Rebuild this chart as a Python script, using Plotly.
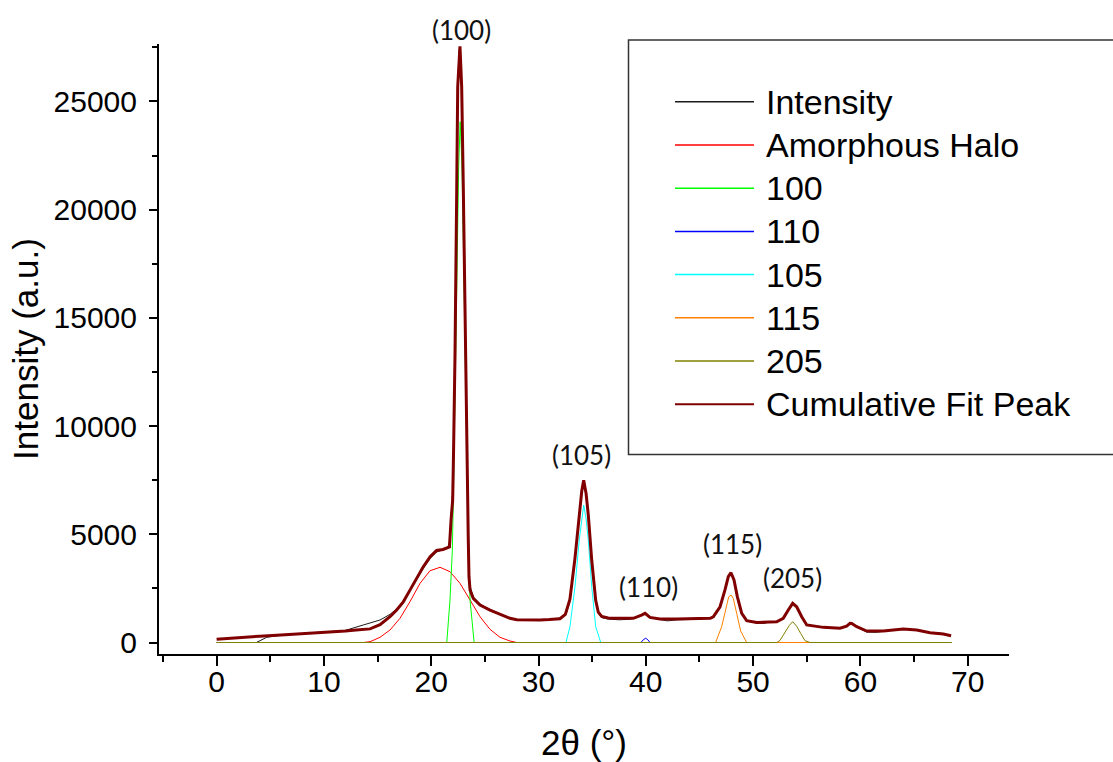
import plotly.graph_objects as go

# ---------------- data ----------------
intensity_x = [3.74, 4.67, 6.0, 8.0, 10.0, 12.0, 13.67, 14.3, 15.23, 16.16, 16.78, 17.4, 18.0, 18.65,
               19.26, 19.9, 20.5, 21.1, 21.5, 21.69, 21.85, 22.0, 22.08, 22.22, 22.38, 22.47, 22.6,
               22.68, 22.84, 22.99, 23.18, 23.34, 23.45, 23.52, 23.62, 23.92, 24.55, 25.48, 26.41,
               27.34, 28.0, 29.5, 31.0, 32.16, 32.6, 32.93, 33.4, 33.8, 34.03, 34.21, 34.43, 34.64,
               34.96, 35.33, 35.57, 35.89, 36.5, 37.5, 38.5, 39.2, 39.6, 39.93, 40.39, 41.3, 42.0,
               43.0, 44.0, 45.0, 45.5, 46.29, 46.92, 47.38, 47.69, 47.94, 48.22, 48.53, 48.94, 49.4,
               50.3, 51.0, 51.5, 52.2, 52.81, 53.28, 53.69, 54.06, 54.53, 55.0, 56.54, 58.1, 58.72,
               59.03, 59.19, 59.66, 60.59, 61.5, 62.14, 64.0, 65.25, 66.49, 67.4, 67.73, 68.45]
intensity_y = [10, 240, 340, 405, 470, 560, 810, 890, 1040, 1300, 1550, 1900, 2400, 2920,
               3420, 3880, 4180, 4290, 4350, 4600, 5800, 7000, 9000, 13600, 21300, 25800, 27400,
               27500, 25500, 20800, 13200, 8600, 4800, 3200, 2600, 2100, 1780, 1520, 1300,
               1110, 1060, 1050, 1060, 1150, 1350, 1900, 3900, 5950, 7000, 7450, 6950, 5900,
               3750, 1900, 1350, 1150, 1080, 1050, 1070, 1180, 1260, 1330, 1150, 1060, 1000,
               1050, 1060, 1150, 1100, 1180, 1650, 2420, 3030, 3220, 2880, 2100, 1330, 990,
               900, 880, 950, 980, 1100, 1480, 1800, 1640, 1180, 800, 700, 650, 750,
               880, 870, 720, 480, 470, 520, 640, 570, 440, 440, 370, 330]

fit_x = [0.0, 2.0, 4.0, 6.0, 8.0, 10.0, 12.0, 13.0, 13.67, 14.3, 15.23, 16.16, 16.78, 17.4, 18.02,
         18.65, 19.26, 19.9, 20.5, 21.1, 21.7, 21.85, 22.0, 22.08, 22.22, 22.38, 22.47, 22.68,
         22.84, 22.99, 23.18, 23.34, 23.45, 23.52, 23.62, 23.92, 24.55, 25.48, 26.41, 27.34,
         27.97, 29.0, 30.14, 31.0, 32.0, 32.5, 32.93, 33.4, 33.8, 34.03, 34.21, 34.43, 34.64,
         34.96, 35.33, 35.57, 35.89, 36.5, 37.29, 38.84, 39.6, 39.93, 40.39, 41.32, 42.88,
         45.05, 46.0, 46.29, 46.92, 47.38, 47.69, 47.94, 48.22, 48.53, 48.94, 49.4, 50.34,
         52.2, 52.81, 53.28, 53.69, 54.06, 54.53, 55.0, 56.54, 58.1, 58.72, 59.03, 59.19,
         59.66, 60.59, 62.14, 64.0, 65.25, 66.49, 67.73, 68.45]
fit_y = [150, 230, 290, 345, 400, 460, 530, 575, 600, 630, 820, 1190, 1500, 1880, 2420,
         2960, 3500, 3960, 4250, 4300, 4420, 5660, 6580, 8750, 13380, 21060, 25680, 27550,
         25680, 21060, 13380, 8750, 4890, 3040, 2430, 2040, 1730, 1500, 1320, 1120,
         1050, 1040, 1040, 1060, 1100, 1300, 2000, 3900, 6000, 7000, 7500, 6900, 5900,
         3800, 1950, 1400, 1200, 1130, 1120, 1120, 1270, 1350, 1160, 1090, 1090,
         1090, 1120, 1190, 1650, 2430, 3040, 3225, 2890, 2120, 1350, 1010, 930,
         960, 1120, 1500, 1810, 1650, 1190, 810, 700, 660, 760, 890, 880,
         730, 530, 530, 620, 580, 450, 390, 310]

halo_x = [0.0, 13.67, 14.3, 15.23, 16.16, 17.09, 18.02, 18.96, 19.89, 20.82, 21.75, 22.68, 23.62,
          24.55, 25.48, 26.41, 27.34, 27.97, 68.5]
halo_y = [0, 0, 37, 240, 578, 1118, 1885, 2735, 3317, 3474, 3271, 2735, 1964,
          1192, 610, 240, 69, 0, 0]

p100_x = [0.0, 21.45, 21.75, 21.97, 22.06, 22.19, 22.28, 22.43, 22.56, 22.7, 22.87, 23.0, 23.12,
          23.2, 23.36, 23.46, 23.62, 24.0, 68.5]
p100_y = [0, 0, 1960, 4270, 6580, 11070, 14440, 18440, 21980, 24060, 21980, 18440, 14440,
          11070, 6580, 4270, 1960, 0, 0]

p110_x = [0.0, 39.55, 39.75, 39.99, 40.2, 40.4, 68.5]
p110_y = [0, 0, 120, 200, 120, 0, 0]

p105_x = [0.0, 32.56, 32.93, 33.15, 33.4, 33.8, 34.03, 34.21, 34.43, 34.64, 34.96, 35.15, 35.33,
          35.8, 68.5]
p105_y = [0, 0, 730, 1500, 2578, 4736, 5812, 6353, 5738, 4736, 2578, 1500, 730, 0, 0]

p115_x = [0.0, 46.51, 47.07, 47.47, 47.73, 47.94, 48.15, 48.47, 48.84, 49.4, 68.5]
p115_y = [0, 0, 730, 1654, 2116, 2194, 2042, 1349, 531, 0, 0]

p205_x = [0.0, 52.2, 52.5, 52.97, 53.37, 53.69, 54.06, 54.43, 54.84, 55.3, 68.5]
p205_y = [0, 0, 92, 499, 785, 961, 753, 425, 83, 0, 0]

series_names = ["Intensity", "Amorphous Halo", "100", "110", "105", "115", "205", "Cumulative Fit Peak"]
series_colors = ["#1a1a1a", "#FF0000", "#00FF00", "#0000FF", "#00FFFF", "#FF8000", "#808000", "#800000"]
series_widths = [1, 1, 1, 1, 1, 1, 1, 3]

peak_labels = ["(100)", "(105)", "(110)", "(115)", "(205)"]
peak_label_x = [22.84, 34.03, 40.29, 48.1, 53.65]
peak_label_y = [28297, 8663, 2578, 4551, 2966]

x_ticks = [0, 10, 20, 30, 40, 50, 60, 70]
y_ticks = [0, 5000, 10000, 15000, 20000, 25000]

X_RANGE = [-5.37, 73.85]
Y_RANGE = [-531, 27652]

# ---------------- figure ----------------
xs = [intensity_x, halo_x, p100_x, p110_x, p105_x, p115_x, p205_x, fit_x]
ys = [intensity_y, halo_y, p100_y, p110_y, p105_y, p115_y, p205_y, fit_y]

fig = go.Figure()
for name, x, y, c, w in zip(series_names, xs, ys, series_colors, series_widths):
    fig.add_trace(go.Scatter(x=x, y=y, mode="lines", name=name,
                             line=dict(color=c, width=w), showlegend=False))

W, H = 1113, 762
L, R, T, B = 159, 1009, 44, 654
pw, ph = R - L, B - T

AX_FONT = "Liberation Sans, Arial, sans-serif"

fig.update_layout(
    width=W, height=H, autosize=False,
    margin=dict(l=L, r=W - R, t=T, b=H - B, pad=0),
    paper_bgcolor="white", plot_bgcolor="white",
    font=dict(family=AX_FONT, color="black"),
    xaxis=dict(range=X_RANGE, tickvals=x_ticks, ticks="outside", ticklen=10, tickwidth=2,
               tickcolor="black", showline=True, linewidth=2, linecolor="black", showgrid=False,
               zeroline=False, tickfont=dict(size=30, family=AX_FONT), automargin=False,
               ticklabelstandoff=-10,
               minor=dict(dtick=5, tick0=0, ticks="outside", ticklen=6, tickwidth=2, tickcolor="black"),
               title=dict(text="2θ (°)", font=dict(size=35, family=AX_FONT), standoff=44)),
    yaxis=dict(range=Y_RANGE, tickvals=y_ticks, tickformat="d", ticks="outside", ticklen=8,
               tickwidth=2, tickcolor="black", showline=True, linewidth=2, linecolor="black",
               showgrid=False, zeroline=False, tickfont=dict(size=30, family=AX_FONT),
               ticklabelstandoff=6, automargin=False,
               minor=dict(dtick=2500, tick0=0, ticks="outside", ticklen=5, tickwidth=2, tickcolor="black"),
               title=dict(text="Intensity (a.u.)", font=dict(size=35, family=AX_FONT), standoff=4)),
)

# peak labels (y given in data units, placed relative to the y range so the top one can sit above the axes)
for t, x, y in zip(peak_labels, peak_label_x, peak_label_y):
    fig.add_annotation(x=x, xref="x", y=(y - Y_RANGE[0]) / (Y_RANGE[1] - Y_RANGE[0]), yref="paper",
                       text=t, showarrow=False, xanchor="center", yanchor="middle",
                       font=dict(family="Lato, Open Sans, sans-serif", size=26, color="#111"))

# legend box (drawn like the original's framed legend)
def px_x(p):
    return (p - L) / pw

def px_y(p):
    return (B - p) / ph

fig.add_shape(type="rect", xref="paper", yref="paper", x0=px_x(628.5), x1=px_x(1125),
              y0=px_y(454.5), y1=px_y(40), line=dict(color="#333333", width=1.5),
              fillcolor="rgba(255,255,255,0)", layer="above")
row0, row_step = 101.7, 43.23
for i, (name, c) in enumerate(zip(series_names, series_colors)):
    yy = px_y(row0 + i * row_step)
    fig.add_shape(type="line", xref="paper", yref="paper", x0=px_x(675), x1=px_x(754),
                  y0=yy, y1=yy, line=dict(color=c, width=2 if i == 7 else 1.5))
    fig.add_annotation(xref="paper", yref="paper", x=px_x(764), y=yy, text=name, showarrow=False,
                       xanchor="left", yanchor="middle",
                       font=dict(family=AX_FONT, size=34, color="black"))

fig.write_html("out.html")
